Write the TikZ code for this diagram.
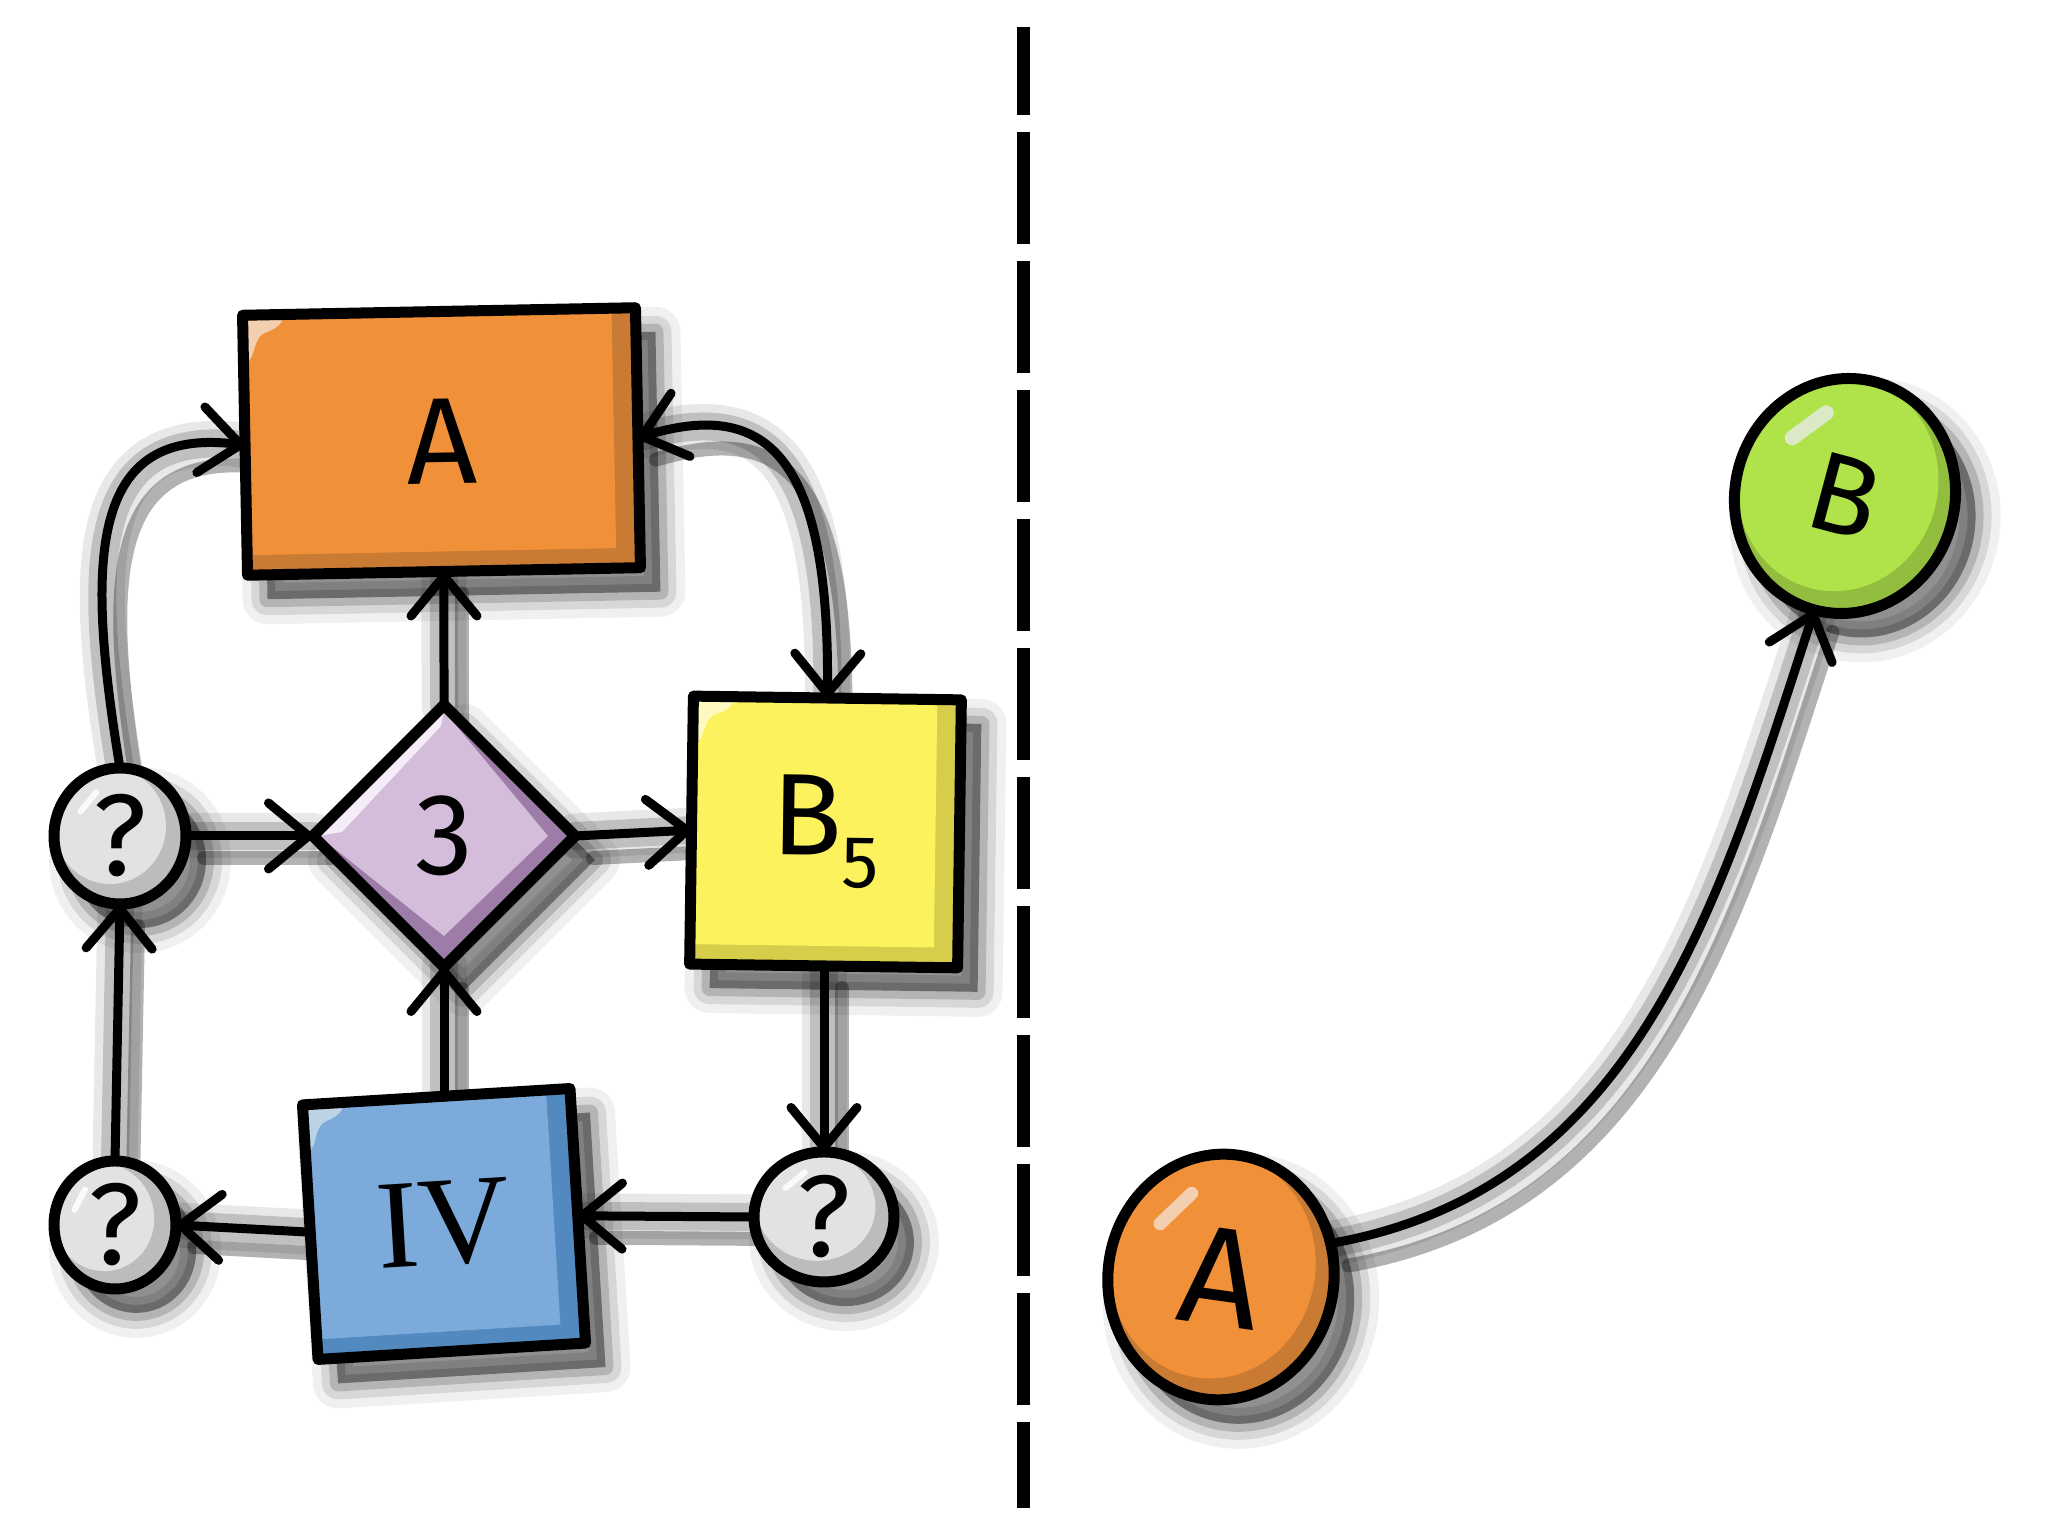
\documentclass[tikz,border=0pt]{standalone}
\usepackage{fontspec}
\setmainfont{Fira Sans}
\newfontfamily\ivfont{Liberation Serif}
\usetikzlibrary{arrows.meta,shapes.geometric,calc}
\pgfdeclarelayer{bg}
\pgfsetlayers{bg,main}
\definecolor{orL}{HTML}{F0913A}\definecolor{orD}{HTML}{C97A33}\definecolor{orH}{HTML}{F3CFAF}
\definecolor{yeL}{HTML}{FCF25E}\definecolor{yeD}{HTML}{D6CD4A}\definecolor{yeH}{HTML}{FFF9C0}
\definecolor{puL}{HTML}{D3BDDA}\definecolor{puD}{HTML}{9D7DA8}\definecolor{puH}{HTML}{F4ECF6}
\definecolor{blL}{HTML}{7BAADB}\definecolor{blD}{HTML}{528ABF}\definecolor{blH}{HTML}{BCD3E6}
\definecolor{grL}{HTML}{E2E2E2}\definecolor{grD}{HTML}{BDBBBB}\definecolor{grH}{HTML}{FAFAFA}
\definecolor{gnL}{HTML}{B0E24A}\definecolor{gnD}{HTML}{92BD3E}\definecolor{gnH}{HTML}{DCE9C6}
\tikzset{
  nodeline/.style={draw=black, line width=0.11cm, line join=round, line cap=round},
  conn/.style={draw=black, line width=0.09cm, line cap=round, line join=round},
  barb/.tip={Straight Barb[length=0.4cm,width=0.66cm,line cap=round,line join=round]},
  arr/.style={-barb},
  biarr/.style={barb-barb},
  nshadow/.style={
     preaction={fill=black, opacity=0.4, transform canvas={shift={(0.2,-0.24)}}},
     preaction={draw=black, opacity=0.16, line width=0.16cm, line join=round, transform canvas={shift={(0.2,-0.24)}}},
     preaction={draw=black, opacity=0.1, line width=0.32cm, line join=round, transform canvas={shift={(0.2,-0.24)}}},
     preaction={draw=black, opacity=0.06, line width=0.5cm, line join=round, transform canvas={shift={(0.2,-0.24)}}}},
  cshadow/.style={transform canvas={shift={(0.18,-0.22)}}, draw=black, opacity=0.3, line width=0.14cm, line cap=round,
     preaction={draw=black, opacity=0.17, line width=0.28cm, line cap=round},
     preaction={draw=black, opacity=0.09, line width=0.45cm, line cap=round}},
  boxnode/.style={rectangle, nodeline, inner sep=0pt, outer sep=0pt},
  ellnode/.style={ellipse, nodeline, inner sep=0pt, outer sep=0pt},
  lbl/.style={font=\fontsize{#1}{#1}\selectfont}
}
\newcommand\boxfill[8]{%
\begin{scope}[shift={(#1,#2)},rotate=#5]
\fill[#7,nshadow] ({-#3/2},{-#4/2}) rectangle ({#3/2},{#4/2});
\fill[#6] ({-#3/2},{-#4/2+0.2}) rectangle ({#3/2-0.24},{#4/2});
\begin{scope}[shift={({-#3/2},{#4/2})}]
\fill[#8] (0,0) -- (0.42,0) .. controls (0.39,-0.12) and (0.3,-0.15) .. (0.22,-0.18) .. controls (0.14,-0.21) and (0.12,-0.32) .. (0.09,-0.4) .. controls (0.07,-0.45) and (0.03,-0.47) .. (0,-0.48) -- cycle;
\end{scope}
\end{scope}}
\newcommand\ellfill[9]{%
\begin{scope}[shift={(#1,#2)},rotate=#5]
\fill[#7,nshadow] (0,0) ellipse [x radius=#3, y radius=#4];
\begin{scope}
\clip (0,0) ellipse [x radius=#3, y radius=#4];
\fill[#6] (-0.1,0.1) ellipse [x radius={#3-0.1}, y radius={#4-0.1}];
\end{scope}
\draw[#8,line width=#9,line cap=round] ({-0.6*#3},{0.36*#4}) -- ({-0.36*#3},{0.64*#4});
\end{scope}}
\newcommand\conn[2]{%
\begin{pgfonlayer}{bg}\draw[cshadow] #2;\end{pgfonlayer}
\draw[conn,#1] #2;}
\begin{document}
\begin{tikzpicture}
\useasboundingbox (0,0) rectangle (20.48,15.36);
\begin{pgfonlayer}{bg}\fill[white] (0,0) rectangle (20.48,15.36);\end{pgfonlayer}

% ---- fills ----
\boxfill{4.415}{10.945}{3.93}{2.60}{1.1}{orL}{orD}{orH}
\boxfill{8.255}{7.04}{2.68}{2.68}{-0.8}{yeL}{yeD}{yeH}
\boxfill{4.44}{3.12}{2.68}{2.55}{3.5}{blL}{blD}{blH}
\begin{scope}[shift={(4.44,7.00)}]
\fill[puD,nshadow] (0,1.31) -- (1.31,0) -- (0,-1.31) -- (-1.31,0) -- cycle;
\fill[puL] (0,1.25) -- (1.04,0) -- (0,-1.0) -- (-1.25,0) -- cycle;
\fill[puH] (-1.26,0) -- (0,1.26) -- (-0.03,1.1) -- (-1.02,0.04) -- cycle;
\end{scope}
\ellfill{1.20}{7.00}{0.66}{0.68}{0}{grL}{grD}{grH}{0.06cm}
\ellfill{1.15}{3.11}{0.61}{0.64}{12}{grL}{grD}{grH}{0.06cm}
\ellfill{8.24}{3.19}{0.70}{0.65}{-8}{grL}{grD}{grH}{0.06cm}
\ellfill{12.21}{2.59}{1.13}{1.23}{-8}{orL}{orD}{orH}{0.13cm}
\ellfill{18.45}{10.40}{1.10}{1.18}{-15}{gnL}{gnD}{gnH}{0.15cm}

% ---- nodes ----
\node[boxnode, minimum width=3.93cm, minimum height=2.60cm, rotate=1.1, lbl=35] (A) at (4.415,10.945) {A};
\node[boxnode, minimum width=2.68cm, minimum height=2.68cm, rotate=-0.8, lbl=33] (B5) at (8.255,7.04) {B\raisebox{-0.32cm}{\fontsize{21}{21}\selectfont 5}};
\node[boxnode, minimum width=2.68cm, minimum height=2.55cm, rotate=3.5, lbl=36] (IV) at (4.44,3.12) {\ivfont IV};
\node[diamond, aspect=1, nodeline, inner sep=0pt, outer sep=0pt, minimum width=2.62cm, minimum height=2.62cm, lbl=33] (D) at (4.44,7.00) {3};
\node[ellnode, minimum width=1.32cm, minimum height=1.36cm, lbl=33] (qL) at (1.20,7.00) {?};
\node[ellnode, minimum width=1.22cm, minimum height=1.28cm, lbl=33] (qBL) at (1.15,3.11) {?};
\node[ellnode, minimum width=1.40cm, minimum height=1.30cm, lbl=33] (qBR) at (8.24,3.19) {?};
\node[ellnode, minimum width=2.26cm, minimum height=2.46cm, rotate=-8, lbl=40] (BA) at (12.21,2.59) {A};
\node[ellnode, minimum width=2.20cm, minimum height=2.36cm, rotate=-15, lbl=32] (BB) at (18.45,10.40) {B};

% ---- separator ----
\coordinate (sepTop) at (10.23,15.09);
\coordinate (sepBot) at (10.23,0.28);
\draw[line width=0.13cm, dash pattern=on 1.12cm off 0.17cm, dash phase=0.24cm] (sepTop) -- (sepBot);

% ---- connectors ----
\conn{arr}{(qL.north) .. controls (0.85,9.8) and (0.9,11.1) .. (A.west)}
\conn{biarr}{(A.east) .. controls (7.6,11.35) and (8.3,10.9) .. (B5.north)}
\conn{arr}{(D.north) -- (A.south)}
\conn{arr}{(qL.east) -- (D.west)}
\conn{arr}{(D.east) -- (B5.west)}
\conn{arr}{(B5.south -| qBR.north) -- (qBR.north)}
\conn{arr}{(qBR.west) -- (IV.east)}
\conn{arr}{(IV.west) -- (qBL.east)}
\conn{arr}{(qBL.north) -- (qL.south)}
\conn{arr}{(IV.north -| D.south) -- (D.south)}
\conn{arr}{(BA.25) to[out=10,in=-108] (BB.south)}
\end{tikzpicture}
\end{document}
